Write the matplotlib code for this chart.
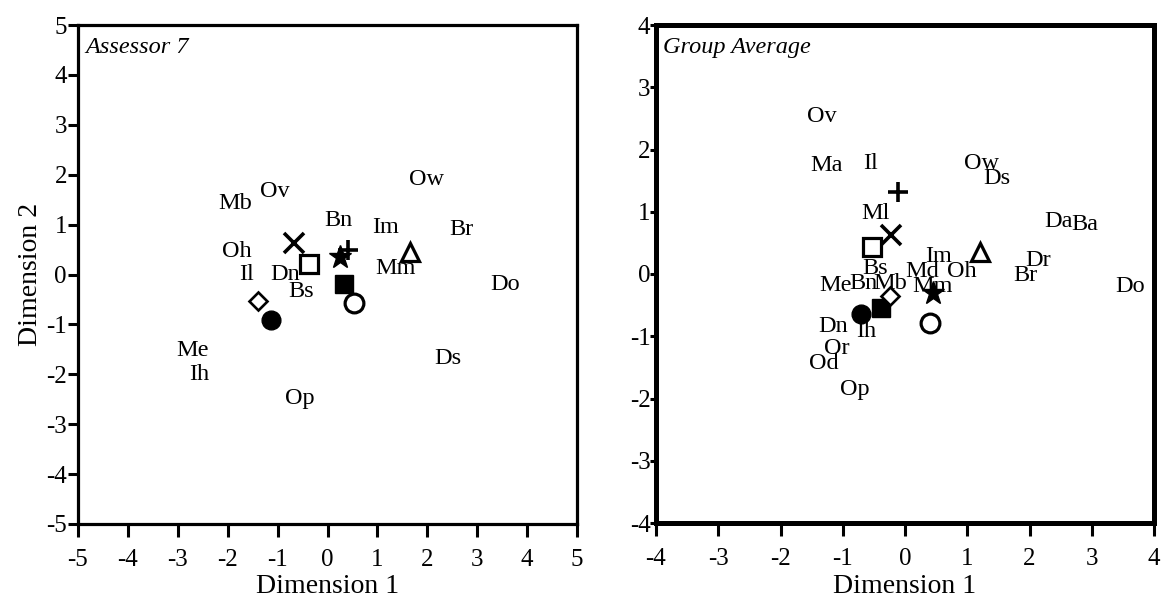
import matplotlib
matplotlib.use("Agg")
import matplotlib.pyplot as plt

plt.rcParams['font.family'] = ['Liberation Serif', 'DejaVu Serif']
plt.rcParams['axes.unicode_minus'] = False

# ---------------- Data ----------------
# Assessor 7: product labels
a7_labels = ["Ow", "Ov", "Mb", "Bn", "Im", "Br", "Oh", "Il", "Dn", "Bs", "Mm",
             "Do", "Ds", "Me", "Ih", "Op"]
a7_x = [1.99, -1.05, -1.85, 0.22, 1.17, 2.69, -1.81, -1.62, -0.85, -0.52, 1.37,
        3.56, 2.41, -2.70, -2.58, -0.55]
a7_y = [1.91, 1.66, 1.43, 1.09, 0.95, 0.91, 0.46, -0.01, -0.01, -0.34, 0.12,
        -0.21, -1.68, -1.52, -2.00, -2.49]

# Assessor 7: attribute markers
marker_names = ["plus", "cross", "open_square", "filled_square", "open_circle",
                "filled_circle", "diamond", "triangle", "star"]
a7_mx = [0.42, -0.67, -0.37, 0.33, 0.53, -1.13, -1.40, 1.65, 0.26]
a7_my = [0.49, 0.64, 0.21, -0.19, -0.58, -0.91, -0.54, 0.45, 0.36]

# Group average: product labels
ga_labels = ["Ov", "Ma", "Il", "Ow", "Ds", "Ml", "Da", "Ba", "Im", "Dr", "Bs",
             "Md", "Oh", "Br", "Me", "Bn", "Mb", "Mm", "Do", "Dn", "Ih", "Or",
             "Od", "Op"]
ga_x = [-1.33, -1.26, -0.56, 1.23, 1.47, -0.48, 2.46, 2.89, 0.54, 2.14, -0.48,
        0.27, 0.91, 1.93, -1.12, -0.67, -0.24, 0.45, 3.61, -1.15, -0.62, -1.10,
        -1.31, -0.80]
ga_y = [2.53, 1.75, 1.78, 1.78, 1.54, 0.97, 0.84, 0.79, 0.28, 0.22, 0.09,
        0.04, 0.04, -0.02, -0.18, -0.15, -0.15, -0.20, -0.20, -0.85, -0.93, -1.19,
        -1.43, -1.86]

# Group average: attribute markers
ga_mx = [-0.12, -0.22, -0.53, -0.38, 0.40, -0.71, -0.24, 1.20, 0.45]
ga_my = [1.32, 0.63, 0.44, -0.55, -0.78, -0.64, -0.36, 0.36, -0.31]

# ---------------- Styles ----------------
marker_styles = {
    "plus":          dict(marker="+", ms=14, mew=2.6, mfc="none", mec="black"),
    "cross":         dict(marker="x", ms=15, mew=2.6, mfc="none", mec="black"),
    "open_square":   dict(marker="s", ms=13, mew=2.3, mfc="white", mec="black"),
    "filled_square": dict(marker="s", ms=12.5, mew=1, mfc="black", mec="black"),
    "open_circle":   dict(marker="o", ms=13.5, mew=2.3, mfc="white", mec="black"),
    "filled_circle": dict(marker="o", ms=13.5, mew=1, mfc="black", mec="black"),
    "diamond":       dict(marker="D", ms=9, mew=1.9, mfc="white", mec="black"),
    "triangle":      dict(marker="^", ms=13, mew=2.3, mfc="white", mec="black"),
    "star":          dict(marker="*", ms=17, mew=1, mfc="black", mec="black"),
}

W, H = 1168, 603
fig = plt.figure(figsize=(W / 100, H / 100), dpi=100)

ax1 = fig.add_axes([78 / W, 1 - 524 / H, (577 - 78) / W, (524 - 25) / H])
ax2 = fig.add_axes([656 / W, 1 - 523 / H, (1154 - 656) / W, (523 - 25) / H])


def draw(ax, lx, ly, labels, mx, my, lim, spine_w, title, ypad, xpad, ylen,
         xlen, xlabelpad):
    for name, x, y in zip(marker_names, mx, my):
        ax.plot([x], [y], linestyle="none", zorder=2, **marker_styles[name])
    for t, x, y in zip(labels, lx, ly):
        ax.text(x, y, t, ha="center", va="center", fontsize=17.5, zorder=3)
    ax.set_xlim(-lim, lim)
    ax.set_ylim(-lim, lim)
    ticks = list(range(-lim, lim + 1))
    ax.set_xticks(ticks)
    ax.set_yticks(ticks)
    for s in ax.spines.values():
        s.set_linewidth(spine_w)
    ax.tick_params(axis="y", direction="out", length=ylen, width=2.2,
                   labelsize=18, pad=ypad)
    ax.tick_params(axis="x", direction="out", length=xlen, width=2.2,
                   labelsize=18, pad=xpad)
    ax.set_xlabel("Dimension 1", fontsize=20, labelpad=xlabelpad)
    ax.text(0.015, 0.955, title, transform=ax.transAxes, ha="left", va="center",
            fontsize=17.5, style="italic")


draw(ax1, a7_x, a7_y, a7_labels, a7_mx, a7_my, 5, 2.3, "Assessor 7", 1, 9, 7, 9, 2.5)
draw(ax2, ga_x, ga_y, ga_labels, ga_mx, ga_my, 4, 3.6, "Group Average", 0, 9, 4, 9, 3)
ax1.set_ylabel("Dimension 2", fontsize=20, labelpad=2)

fig.savefig("out.png", dpi=100)
